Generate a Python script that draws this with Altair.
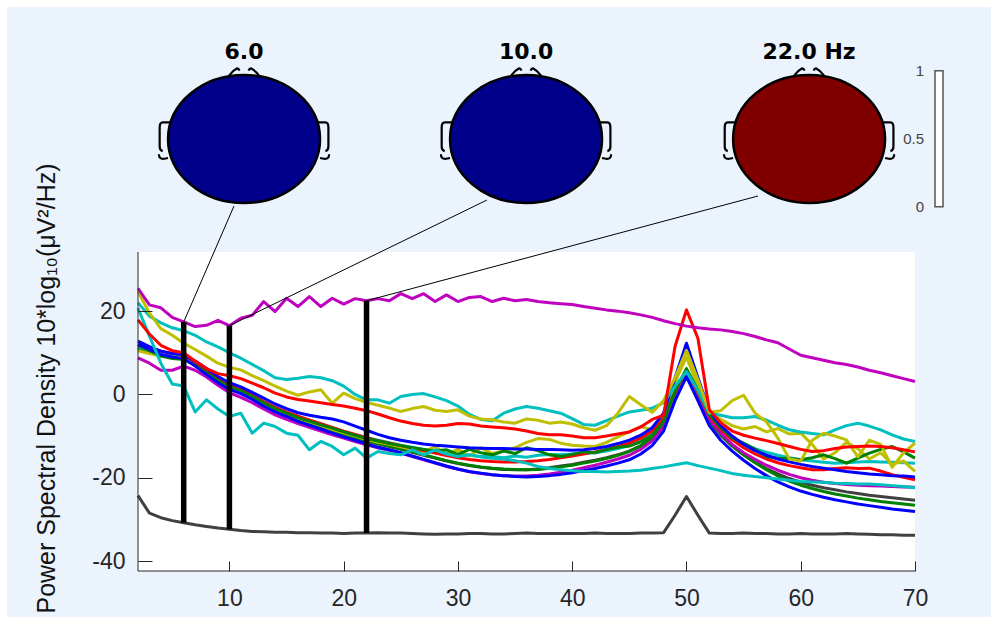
import altair as alt
import pandas as pd

# ---------------- data ----------------
freqs = list(range(2, 71))

mag_top = [25.5, 21.5, 20.8, 18.5, 17.4, 16.3, 16.6, 17.8, 16.5, 18.3,
           19.0, 22.3, 19.9, 23.1, 21.1, 23.5, 21.1, 23.1, 21.7, 23.0,
           22.5, 23.0, 22.5, 24.2, 23.0, 24.2, 22.3, 23.9, 22.3, 23.3,
           23.5, 22.3, 23.1, 22.5, 22.8, 22.3, 22.0, 21.8, 21.6, 21.1,
           20.7, 20.3, 20.0, 19.6, 19.1, 18.5, 17.7, 17.0, 16.4, 16.0,
           15.7, 15.5, 15.1, 14.6, 13.9, 13.1, 12.4, 10.9, 9.4, 8.8,
           8.2, 7.6, 7.2, 6.6, 5.8, 5.2, 4.5, 3.8, 3.1]
gray_bottom = [-24.3, -28.5, -29.6, -30.3, -30.8, -31.3, -31.7, -32.1, -32.4, -32.7,
               -32.9, -33.0, -33.1, -33.1, -33.2, -33.2, -33.3, -33.3, -33.4, -33.3,
               -33.3, -33.2, -33.3, -33.3, -33.4, -33.5, -33.6, -33.5, -33.5, -33.4,
               -33.4, -33.5, -33.5, -33.4, -33.3, -33.4, -33.4, -33.4, -33.4, -33.4,
               -33.3, -33.4, -33.4, -33.4, -33.3, -33.3, -33.2, -29.0, -24.5, -29.0,
               -33.3, -33.4, -33.4, -33.3, -33.4, -33.4, -33.5, -33.5, -33.4, -33.5,
               -33.5, -33.5, -33.4, -33.5, -33.6, -33.7, -33.7, -33.8, -33.8]
cyan_high = [22.0, 18.8, 17.2, 16.0, 15.3, 14.2, 12.6, 11.4, 10.0, 8.7,
             7.2, 5.7, 4.0, 3.6, 3.9, 4.3, 4.0, 3.3, 2.0, 0.0,
             -1.3, -1.3, -2.1, -0.5, 0.0, 0.2, -0.6, -1.5, -2.8, -4.8,
             -6.0, -6.3, -4.5, -3.5, -2.9, -3.3, -3.9, -4.5, -5.8, -7.2,
             -7.4, -6.3, -5.2, -4.2, -3.8, -3.3, -2.0, 2.0, 5.5, 1.0,
             -4.5, -5.0, -5.6, -5.6, -5.3, -6.2, -7.4, -8.5, -9.0, -9.4,
             -9.7, -8.5, -7.5, -6.9, -7.6, -8.5, -9.7, -10.7, -11.3]
cyan_low = [20.7, 14.0, 7.5, 2.5, 2.0, -4.2, -1.3, -3.5, -5.3, -4.5,
            -9.3, -6.9, -7.7, -9.3, -9.8, -13.3, -11.3, -12.5, -14.5, -12.9,
            -15.3, -13.7, -14.2, -14.5, -13.3, -14.5, -13.3, -14.3, -14.9, -14.5,
            -15.0, -15.3, -15.5, -15.9, -16.5, -17.3, -17.8, -18.1, -18.3, -18.5,
            -18.5, -18.6, -18.5, -18.4, -18.2, -17.8, -17.4, -16.9, -16.4, -17.1,
            -17.7, -18.3, -19.0, -19.4, -19.7, -20.0, -20.3, -20.6, -20.9, -21.0,
            -21.1, -21.3, -21.4, -21.5, -21.5, -21.7, -21.9, -22.1, -22.4]
yellow_high = [24.7, 19.5, 15.8, 14.2, 12.3, 10.8, 9.2, 7.5, 6.5, 5.9,
               4.5, 3.3, 2.0, 0.8, -0.2, 0.6, 1.1, -2.1, 0.3, -1.0,
               -1.9, -2.6, -3.3, -4.1, -3.4, -2.9, -3.8, -4.1, -3.7, -5.2,
               -5.9, -6.1, -6.6, -6.9, -5.9, -6.2, -6.9, -6.6, -7.1, -8.0,
               -8.6, -7.5, -4.5, -0.5, -2.5, -4.3, -1.5, 4.0, 10.6, 3.5,
               -4.3, -3.9, -1.5, -0.2, -4.5, -6.6, -10.5, -15.5, -16.0, -11.0,
               -9.3, -10.0, -10.9, -15.0, -11.0, -12.0, -17.5, -14.0, -11.7]
red_high = [17.9, 14.5, 11.8, 10.5, 10.0, 8.0, 6.2, 5.0, 4.5, 3.8,
            2.7, 1.6, 0.3, -0.6, -1.2, -1.6, -2.0, -2.4, -2.8, -3.3,
            -3.9, -4.7, -5.6, -6.4, -7.0, -7.4, -7.6, -7.4, -7.0, -7.1,
            -7.6, -7.8, -8.0, -8.3, -8.8, -9.4, -9.7, -9.7, -10.0, -10.4,
            -10.4, -10.0, -9.5, -9.0, -7.8, -6.0, -5.0, 11.5, 20.3, 13.5,
            -3.7, -6.8, -8.8, -9.8, -10.5, -11.1, -11.8, -12.5, -13.2, -13.7,
            -13.5, -13.0, -12.6, -12.5, -12.4, -12.5, -12.8, -13.3, -13.8]
green_mid = [11.8, 10.5, 9.2, 8.6, 8.4, 7.0, 5.2, 3.3, 1.8, 0.9,
             -0.5, -2.0, -3.4, -4.5, -5.6, -6.4, -7.3, -8.1, -9.0, -9.8,
             -10.6, -11.2, -11.8, -12.3, -12.8, -13.2, -13.6, -13.3, -14.4, -13.2,
             -14.0, -14.5, -13.6, -14.2, -12.8, -13.5, -14.5, -14.9, -14.4, -13.8,
             -14.0, -13.2, -12.7, -12.4, -11.4, -9.8, -6.5, 0.8, 6.2, 1.0,
             -4.8, -8.0, -10.5, -11.7, -13.2, -14.9, -15.3, -15.4, -15.7, -15.2,
             -14.5, -15.4, -16.5, -15.3, -14.1, -13.2, -12.5, -13.8, -15.3]
blue_upper = [12.8, 11.5, 10.4, 9.8, 9.5, 8.0, 6.2, 4.3, 2.8, 1.8,
              0.5, -0.9, -2.3, -3.4, -4.4, -5.0, -5.5, -5.9, -6.6, -7.6,
              -8.6, -9.6, -10.4, -11.0, -11.5, -11.9, -12.2, -12.4, -12.6, -12.8,
              -12.9, -13.0, -13.0, -13.1, -13.1, -13.2, -13.2, -13.3, -13.4, -13.3,
              -13.0, -12.5, -11.8, -11.0, -9.8, -8.0, -4.5, 4.0, 12.3, 4.0,
              -4.0, -7.5, -10.0, -12.0, -13.5, -14.6, -15.5, -16.2, -16.8, -17.3,
              -17.7, -18.1, -18.5, -18.8, -19.1, -19.3, -19.5, -19.6, -19.8]
blue_lower = [12.0, 10.8, 9.6, 9.0, 8.6, 6.8, 4.8, 2.8, 1.2, 0.2,
              -1.2, -2.8, -4.2, -5.3, -6.5, -7.4, -8.3, -9.3, -10.2, -11.0,
              -11.9, -12.7, -13.3, -14.0, -14.8, -15.6, -16.4, -17.2, -17.9, -18.5,
              -18.9, -19.3, -19.5, -19.7, -19.8, -19.7, -19.5, -19.2, -18.8, -18.3,
              -17.8, -17.2, -16.5, -15.7, -14.3, -12.3, -8.8, -1.5, 4.3, -1.5,
              -7.5, -11.0, -13.6, -15.8, -17.8, -19.5, -21.0, -22.2, -23.2, -24.0,
              -24.7, -25.3, -25.8, -26.3, -26.7, -27.1, -27.5, -27.8, -28.1]
red_mid = [12.0, 11.2, 10.4, 9.9, 9.6, 7.8, 5.8, 3.8, 2.2, 1.2,
           -0.2, -1.7, -3.1, -4.2, -5.2, -6.1, -7.0, -7.9, -8.8, -9.6,
           -10.4, -11.1, -11.7, -12.3, -12.9, -13.5, -14.1, -14.7, -15.2, -15.6,
           -15.9, -16.1, -16.2, -16.2, -16.1, -15.9, -15.6, -15.2, -14.8, -14.3,
           -13.8, -13.2, -12.5, -11.7, -10.5, -8.8, -5.8, 0.5, 6.0, 0.5,
           -5.0, -8.4, -10.9, -12.8, -14.3, -15.5, -16.4, -17.1, -17.6, -18.1,
           -18.1, -17.8, -17.6, -17.8, -17.7, -18.4, -19.3, -19.9, -20.5]
yellow_mid = [10.5, 9.8, 9.2, 9.0, 8.8, 7.4, 5.5, 3.4, 1.7, 0.7,
              -0.7, -2.2, -3.6, -4.7, -5.8, -6.6, -7.5, -8.4, -9.2, -10.0,
              -10.8, -11.5, -12.0, -12.6, -13.2, -13.8, -12.5, -14.5, -13.2, -14.8,
              -12.8, -14.2, -13.5, -12.8, -11.5, -10.6, -10.8, -11.7, -12.2, -12.4,
              -12.5, -11.5, -10.2, -9.0, -7.7, -8.5, -5.0, 3.0, 9.0, 2.0,
              -4.0, -6.0, -7.5, -8.3, -7.7, -9.0, -8.2, -9.5, -9.3, -12.0,
              -15.5, -14.0, -11.5, -13.0, -15.5, -14.0, -16.8, -16.0, -18.5]
cyan_mid = [11.5, 10.5, 9.5, 9.2, 9.0, 7.5, 5.6, 3.6, 2.0, 1.0,
            -0.4, -1.9, -3.3, -4.4, -5.4, -6.3, -7.1, -8.0, -8.9, -9.7,
            -10.4, -11.0, -11.6, -12.2, -12.7, -13.2, -13.7, -14.1, -14.4, -14.6,
            -14.9, -14.9, -15.2, -14.8, -15.1, -14.6, -14.4, -14.5, -14.3, -14.1,
            -14.0, -13.6, -13.0, -12.3, -11.2, -9.5, -6.3, 0.5, 5.8, 0.5,
            -5.0, -8.0, -10.3, -11.8, -13.0, -13.9, -14.6, -15.2, -15.7, -16.0,
            -16.3, -16.5, -16.4, -16.2, -16.1, -16.2, -16.3, -16.4, -16.5]
mag_mid = [8.8, 7.5, 5.8, 5.8, 6.8, 5.8, 4.2, 2.2, 0.4, -0.7,
           -2.0, -3.5, -4.9, -6.0, -7.0, -7.9, -8.8, -9.7, -10.5, -11.3,
           -12.1, -12.8, -13.4, -14.1, -14.9, -15.7, -16.5, -17.3, -18.0, -18.6,
           -19.0, -19.3, -19.5, -19.6, -19.6, -19.4, -19.1, -18.7, -18.2, -17.6,
           -17.0, -16.3, -15.5, -14.6, -13.2, -11.2, -7.8, -0.5, 5.2, -0.5,
           -6.0, -9.3, -12.0, -14.0, -15.6, -17.0, -18.2, -19.2, -20.0, -20.6,
           -21.1, -21.4, -21.6, -21.8, -21.9, -22.0, -22.1, -22.2, -22.3]
gray_mid = [11.2, 10.2, 9.3, 8.9, 8.7, 7.2, 5.3, 3.2, 1.5, 0.5,
            -0.9, -2.4, -3.9, -5.0, -6.0, -6.9, -7.8, -8.7, -9.6, -10.4,
            -11.2, -11.9, -12.5, -13.2, -13.9, -14.6, -15.3, -16.0, -16.6, -17.1,
            -17.5, -17.8, -18.0, -18.1, -18.1, -17.9, -17.6, -17.2, -16.8, -16.3,
            -15.8, -15.2, -14.5, -13.6, -12.3, -10.4, -7.3, -0.5, 5.0, -0.5,
            -6.5, -9.8, -12.4, -14.5, -16.3, -17.8, -19.1, -20.2, -21.1, -21.8,
            -22.4, -22.9, -23.4, -23.8, -24.2, -24.5, -24.8, -25.1, -25.4]
green_low = [11.0, 10.0, 9.3, 9.0, 9.0, 7.6, 5.6, 3.4, 1.6, 0.6,
             -0.8, -2.4, -3.8, -4.9, -5.9, -6.8, -7.7, -8.7, -9.5, -10.3,
             -11.1, -11.8, -12.4, -13.1, -13.8, -14.5, -15.2, -15.9, -16.5, -17.0,
             -17.4, -17.7, -17.9, -18.0, -18.1, -18.0, -17.7, -17.4, -17.0, -16.5,
             -16.0, -15.4, -14.6, -13.7, -12.4, -10.5, -7.2, 0.0, 5.9, 0.0,
             -6.3, -9.6, -12.3, -14.5, -16.4, -18.1, -19.6, -20.8, -21.8, -22.6,
             -23.3, -23.9, -24.4, -24.9, -25.3, -25.7, -26.0, -26.3, -26.6]

BLUE, GREEN, RED = "#0000FF", "#008000", "#FF0000"
CYAN, MAGENTA, YELLOW, DGRAY = "#00BFBF", "#BF00BF", "#BFBF00", "#404040"

# drawing order: first drawn is at the bottom
series_defs = [
    ("gray_mid", DGRAY, gray_mid),
    ("green_low", GREEN, green_low),
    ("mag_mid", MAGENTA, mag_mid),
    ("cyan_mid", CYAN, cyan_mid),
    ("yellow_mid", YELLOW, yellow_mid),
    ("red_mid", RED, red_mid),
    ("green_mid", GREEN, green_mid),
    ("blue_lower", BLUE, blue_lower),
    ("blue_upper", BLUE, blue_upper),
    ("cyan_low", CYAN, cyan_low),
    ("cyan_high", CYAN, cyan_high),
    ("yellow_high", YELLOW, yellow_high),
    ("red_high", RED, red_high),
    ("mag_top", MAGENTA, mag_top),
    ("gray_bottom", DGRAY, gray_bottom),
]

marker_freqs = [6, 10, 22]
head_labels = ["6.0", "10.0", "22.0 Hz"]
head_colors = ["#00008B", "#00008B", "#800000"]
head_center_f = [11.28, 35.96, 60.73]
head_center_v = 61.33
head_anchor_f = [10.40, 32.54, 56.26]
head_anchor_v = [45.24, 46.68, 47.65]
head_title_v = 82.2

cbar_f = [71.75, 72.45]
cbar_v = [45.08, 77.73]
cbar_ticks = [0, 0.5, 1]
cbar_labels = ["0", "0.5", "1"]
cbar_label_f = 70.8

x_ticks = [10, 20, 30, 40, 50, 60, 70]
y_ticks = [-40, -20, 0, 20]
X_DOMAIN = [2, 70]
Y_DOMAIN = [-42.4, 34.2]
Y_TITLE = "Power Spectral Density 10*log\u2081\u2080(\u03bcV\u00b2/Hz)"

# ---------------- layout ----------------
W, H = 777, 319
PAD_L, PAD_T, PAD_R, PAD_B = 138, 252, 76, 47
BG = "#EBF3FD"
AX = "#262626"
FONT = "Liberation Sans"

xs = alt.Scale(domain=X_DOMAIN, nice=False, zero=False)
ys = alt.Scale(domain=Y_DOMAIN, nice=False, zero=False)

x_axis = alt.Axis(values=x_ticks, title=None, domain=False, grid=False,
                  offset=-10, tickSize=10, tickColor=AX, tickWidth=1,
                  labelColor=AX, labelFont=FONT, labelFontSize=23,
                  labelPadding=16, labelFlush=False, labelOverlap=False,
                  zindex=1)
y_axis = alt.Axis(values=y_ticks, title=Y_TITLE, domain=False, grid=False,
                  offset=-14, tickSize=14, tickColor=AX, tickWidth=1,
                  labelColor=AX, labelFont=FONT, labelFontSize=23,
                  labelPadding=13, labelFlush=False, labelOverlap=False,
                  labelExpr="datum.value < 0 ? '-' + (-datum.value) : '' + datum.value",
                  titleFont=FONT, titleFontSize=25, titleFontWeight="normal",
                  titleColor="#111111", titleAngle=270, titleAlign="center",
                  titleBaseline="middle", titleX=46 - PAD_L - 14, titleY=388 - PAD_T,
                  zindex=1)


def X(field):
    return alt.X(field, type="quantitative", scale=xs, axis=x_axis)


def Y(field):
    return alt.Y(field, type="quantitative", scale=ys, axis=y_axis)


one = pd.DataFrame({"k": [0]})

layers = []
# figure panel background (light blue) and white axes background
layers.append(alt.Chart(one).mark_rect(color=BG).encode(
    x=alt.value(7 - PAD_L), x2=alt.value(991 - PAD_L),
    y=alt.value(7 - PAD_T), y2=alt.value(617 - PAD_T)))
layers.append(alt.Chart(one).mark_rect(color="white").encode(
    x=alt.value(0), x2=alt.value(W), y=alt.value(0), y2=alt.value(H)))

# spectra
rows = []
for name, col, vals in series_defs:
    df = pd.DataFrame({"f": freqs, "v": vals})
    rows.append(df.assign(ch=name))
    layers.append(alt.Chart(df).mark_line(color=col, strokeWidth=3,
                                          strokeJoin="round").encode(
        x=X("f"), y=Y("v")))
alldf = pd.concat(rows)

# vertical marker lines from max to min of the spectra
mk = alldf[alldf["f"].isin(marker_freqs)].groupby("f")["v"].agg(["max", "min"]).reset_index()
mk.columns = ["f", "v", "vmin"]
layers.append(alt.Chart(mk).mark_rule(color="black", strokeWidth=5.5).encode(
    x=X("f"), y=Y("v"), y2=alt.Y2("vmin")))

# connectors to the heads
con = mk[["f", "v"]].copy()
con["f2"] = head_anchor_f
con["v2"] = head_anchor_v
layers.append(alt.Chart(con).mark_rule(color="black", strokeWidth=1, clip=False).encode(
    x=X("f"), y=Y("v"), x2=alt.X2("f2"), y2=alt.Y2("v2")))

# heads
k = 0.5523
ry = 0.842
HEAD_PATH = (f"M 1 0 C 1 {ry*k:.3f} {k} {ry} 0 {ry} C {-k} {ry} -1 {ry*k:.3f} -1 0 "
             f"C -1 {-ry*k:.3f} {-k} {-ry} 0 {-ry} C {k} {-ry} 1 {-ry*k:.3f} 1 0 Z")
DECO_PATH = ("M -0.2 -0.83 Q -0.15 -0.9 -0.09 -0.93 Q -0.07 -0.93 -0.06 -0.9 "
             "M 0.2 -0.83 Q 0.15 -0.9 0.09 -0.93 Q 0.07 -0.93 0.06 -0.9 "
             "M -0.97 -0.22 L -1.07 -0.22 Q -1.11 -0.22 -1.11 -0.15 L -1.11 0.1 "
             "Q -1.11 0.15 -1.07 0.16 M -1.12 0.2 Q -1.12 0.27 -1.05 0.26 L -1.0 0.25 "
             "M 0.97 -0.22 L 1.07 -0.22 Q 1.11 -0.22 1.11 -0.15 L 1.11 0.1 "
             "Q 1.11 0.15 1.07 0.16 M 1.12 0.2 Q 1.12 0.27 1.05 0.26 L 1.0 0.25")
SIZE = 152 ** 2

heads = pd.DataFrame({"f": head_center_f, "v": [head_center_v] * 3,
                      "col": head_colors, "lab": head_labels,
                      "tv": [head_title_v] * 3})
layers.append(alt.Chart(heads).mark_point(shape=DECO_PATH, size=SIZE, filled=False,
                                          stroke="black", strokeWidth=2.2,
                                          opacity=1, clip=False).encode(
    x=X("f"), y=Y("v")))
layers.append(alt.Chart(heads).mark_point(shape=HEAD_PATH, size=SIZE, filled=True,
                                          stroke="black", strokeWidth=2.5,
                                          opacity=1, fillOpacity=1, clip=False).encode(
    x=X("f"), y=Y("v"), fill=alt.Fill("col:N", scale=None)))
layers.append(alt.Chart(heads).mark_text(font="DejaVu Sans", fontSize=22,
                                         fontWeight="bold", color="black",
                                         baseline="middle", align="center",
                                         clip=False).encode(
    x=X("f"), y=Y("tv"), text="lab:N"))

# colour bar
cb = pd.DataFrame({"f": [cbar_f[0]], "f2": [cbar_f[1]],
                   "v": [cbar_v[0]], "v2": [cbar_v[1]]})
layers.append(alt.Chart(cb).mark_rect(fill="white", stroke="#555555",
                                      strokeWidth=1.5, clip=False).encode(
    x=X("f"), x2=alt.X2("f2"), y=Y("v"), y2=alt.Y2("v2")))
cbl = pd.DataFrame({"f": [cbar_label_f] * 3,
                    "v": [cbar_v[0] + t * (cbar_v[1] - cbar_v[0]) for t in cbar_ticks],
                    "lab": cbar_labels})
layers.append(alt.Chart(cbl).mark_text(font=FONT, fontSize=15, color="#444444",
                                       align="right", baseline="middle",
                                       clip=False).encode(
    x=X("f"), y=Y("v"), text="lab:N"))

# axis lines (left and bottom only)
layers.append(alt.Chart(one).mark_rule(color=AX, strokeWidth=1).encode(
    x=alt.value(0), y=alt.value(0), y2=alt.value(H)))
layers.append(alt.Chart(one).mark_rule(color=AX, strokeWidth=1).encode(
    x=alt.value(0), x2=alt.value(W), y=alt.value(H)))

chart = alt.layer(*layers).properties(
    width=W, height=H,
    autosize=alt.AutoSizeParams(type="none"),
    padding={"left": PAD_L, "top": PAD_T, "right": PAD_R, "bottom": PAD_B},
    background="white",
).configure_view(strokeWidth=0)

chart.save("out.html", embed_options={"renderer": "svg", "actions": False})
